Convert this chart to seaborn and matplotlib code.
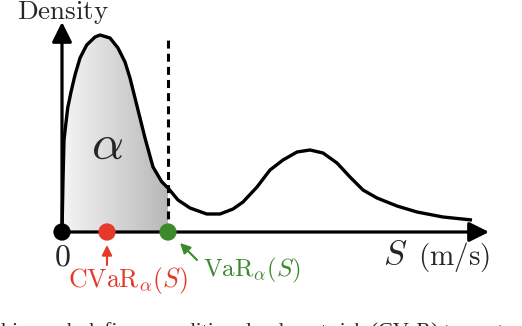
import numpy as np
import pandas as pd
import matplotlib
matplotlib.use("Agg")
import matplotlib.pyplot as plt
import seaborn as sns
from matplotlib.patches import Polygon

sns.set_theme(style="white")
plt.rcParams["mathtext.fontset"] = "cm"

# density curve (S in arbitrary units, density arbitrary units)
speed = [0.0, 0.1, 0.2, 0.37, 0.57, 0.9, 1.3, 1.8, 2.47, 3.3, 3.8, 4.8, 5.6,
         6.3, 6.8, 7.3, 7.8, 8.3, 9.1, 9.97, 10.6, 11.6, 12.8, 14.47, 15.8,
         17.1, 18.1, 19.5, 20.8, 22.1, 23.5, 24.8, 26.1, 27.5, 28.8, 30.1,
         31.5, 33.5, 35.5, 38.1, 41.0]
density = [0.0, 5.2, 9.2, 10.7, 12.4, 14.0, 15.7, 17.4, 18.7, 19.5, 19.7,
           19.4, 18.4, 17.0, 15.4, 13.4, 11.4, 9.4, 6.5, 5.03, 4.4, 3.2, 2.4,
           1.8, 1.8, 2.3, 3.0, 4.5, 6.2, 7.2, 8.0, 8.2, 7.9, 6.9, 5.5, 4.2,
           3.4, 2.6, 2.0, 1.5, 1.2]
var_s = 10.6
cvar_s = 4.5
points_s = [0.0, cvar_s, var_s]
point_colors = ["#000000", "#e5392a", "#3b8a2b"]

df = pd.DataFrame({"S": speed, "density": density})

fig = plt.figure(figsize=(5.22, 3.26), dpi=100)
ax = fig.add_axes([0, 0, 1, 1])
ax.set_axis_off()

# gradient shading under the curve up to VaR
mask = np.array(speed) <= var_s
xs = np.array(speed)[mask]
ys = np.array(density)[mask]
poly_xy = np.vstack([np.column_stack([xs, ys]), [[var_s, 0.0], [0.0, 0.0]]])
poly = Polygon(poly_xy, closed=True, facecolor="none", edgecolor="none")
ax.add_patch(poly)
grad = np.linspace(0.96, 0.72, 256).reshape(1, -1)
im = ax.imshow(grad, cmap="gray", vmin=0, vmax=1, extent=[0, var_s, 0, 20.5],
               origin="lower", interpolation="bicubic", zorder=1)
im.set_clip_path(poly)
ax.set_aspect("auto")

# curve
sns.lineplot(data=df, x="S", y="density", sort=False, color="black", lw=2.4,
             ax=ax, zorder=3, legend=False)
ax.lines[-1].set_solid_joinstyle("round")
ax.lines[-1].set_solid_capstyle("butt")

# VaR dashed line
ax.plot([var_s, var_s], [0, 19.7], color="black", lw=2.2,
        linestyle=(0, (2.6, 1.7)), zorder=3)

# axes arrows
arrow_kw = dict(arrowstyle="-|>,head_length=0.6,head_width=0.3", lw=2.3,
                color="black", mutation_scale=20, shrinkA=0, shrinkB=0)
ax.annotate("", xy=(42.7, 0), xytext=(-0.1, 0), arrowprops=arrow_kw, zorder=4)
ax.annotate("", xy=(0, 21.0), xytext=(0, 0), arrowprops=arrow_kw, zorder=4)

# points
pts = pd.DataFrame({"S": points_s, "d": [0.0, 0.0, 0.0], "c": point_colors})
sns.scatterplot(data=pts, x="S", y="d", hue="c", palette=point_colors,
                s=155, edgecolor="none", ax=ax, zorder=5, legend=False)

# labels
ax.text(0.1, 21.9, r"$\mathrm{Density}$", fontsize=19.5, ha="center", va="center")
ax.text(4.5, 8.7, r"$\alpha$", fontsize=36, ha="center", va="center")
ax.text(0.0, -2.45, r"$0$", fontsize=23, ha="center", va="center")
ax.text(33.3, -2.2, r"$S$", fontsize=25, ha="center", va="center")
ax.text(39.25, -2.5, r"$\mathrm{(m/s)}$", fontsize=21, ha="center", va="center")
ax.text(6.6, -4.8, r"$\mathrm{CVaR}_{\alpha}(S)$", fontsize=18.6,
        color=point_colors[1], ha="center", va="center")
ax.text(19.0, -3.8, r"$\mathrm{VaR}_{\alpha}(S)$", fontsize=18,
        color=point_colors[2], ha="center", va="center")

small_arrow = dict(arrowstyle="-|>,head_length=0.5,head_width=0.25", lw=1.5,
                   mutation_scale=12, shrinkA=0, shrinkB=0)
ax.annotate("", xy=(cvar_s, -1.3), xytext=(cvar_s, -3.3),
            arrowprops=dict(color=point_colors[1], **small_arrow))
ax.annotate("", xy=(11.8, -1.1), xytext=(13.5, -2.8),
            arrowprops=dict(color=point_colors[2], **small_arrow))

# caption fragment
ax.text(-6.1, -10.5, "his work defines conditional value at risk (CVaR) to captu",
        fontsize=15.9, family="Liberation Serif", ha="left", va="baseline",
        clip_on=False)

ax.set_xlim(-6.2, 46.0)
ax.set_ylim(-9.4, 23.2)

fig.savefig("out.png", dpi=100)
